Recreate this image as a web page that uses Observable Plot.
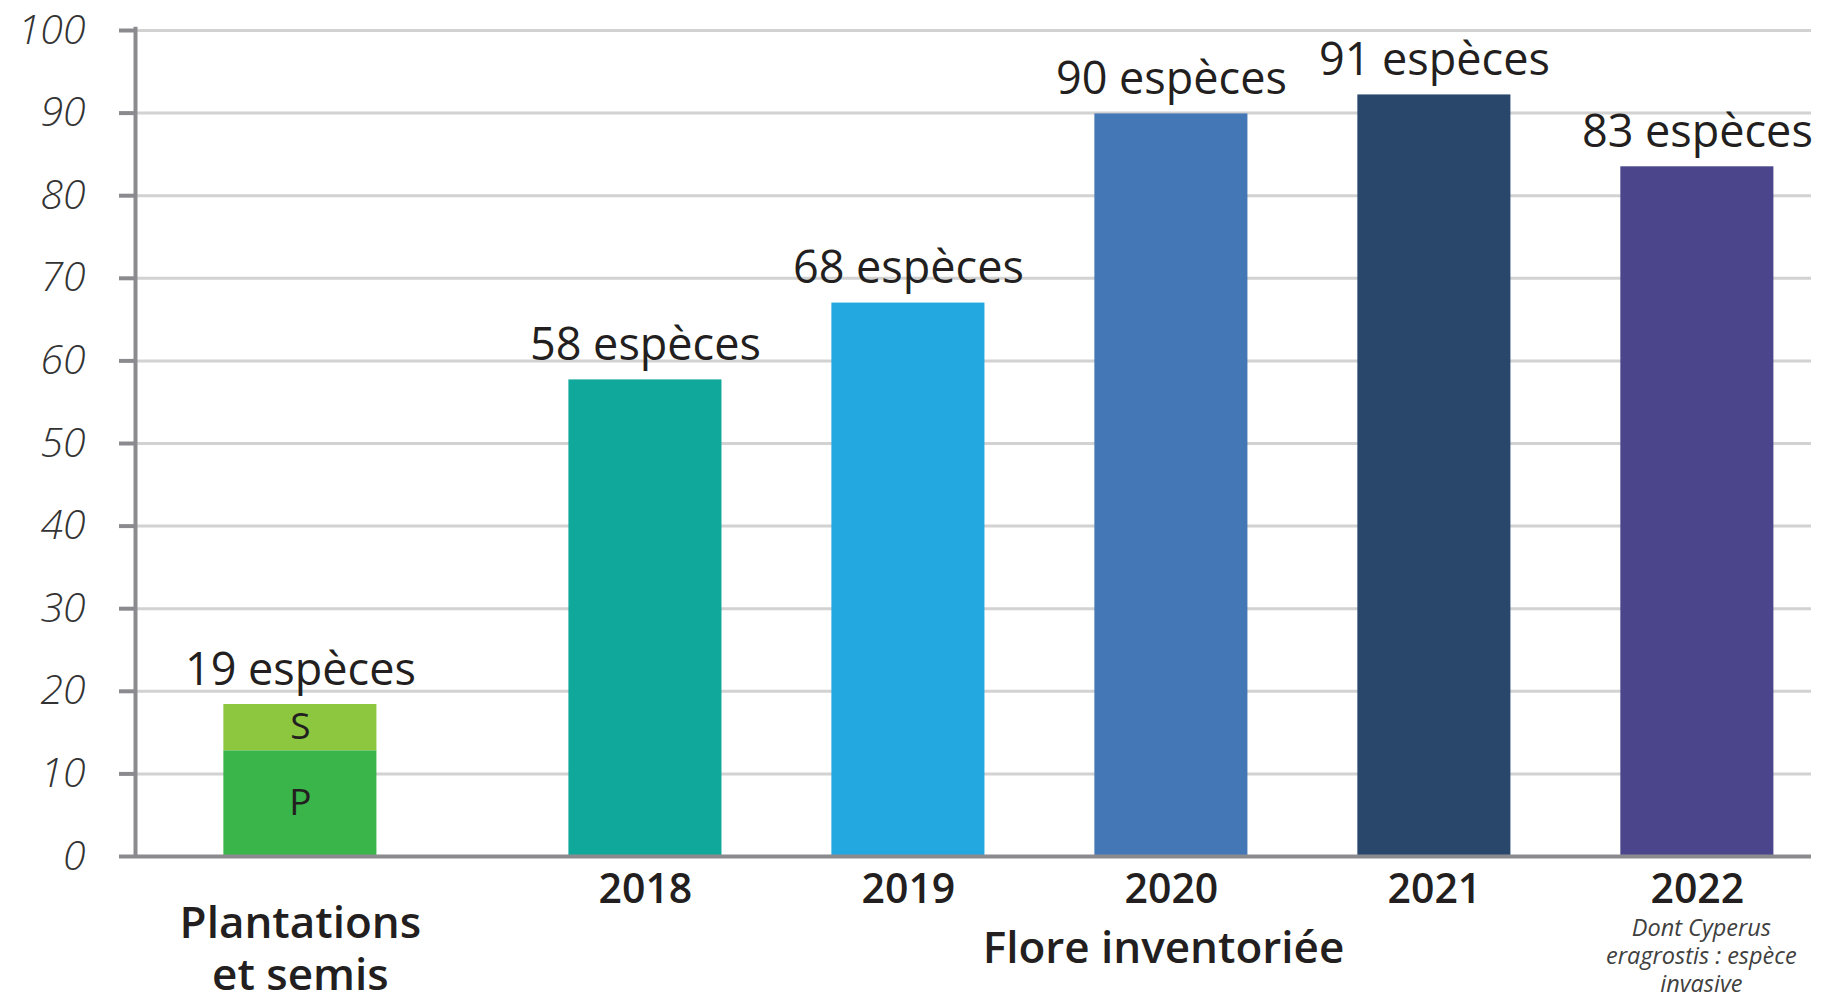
<!DOCTYPE html>
<html>
<head>
<meta charset="utf-8">
<script src="https://cdn.jsdelivr.net/npm/d3@7"></script>
<script src="https://cdn.jsdelivr.net/npm/@observablehq/plot@0.6"></script>
<style>
  html, body { margin: 0; padding: 0; background: #fff; }
  #chart svg { display: block; }
</style>
</head>
<body>
<div id="chart"></div>
<script>
// ---- Data ----
const years = ["2018", "2019", "2020", "2021", "2022"];
const speciesCounts = [57.7, 67.0, 89.9, 92.2, 83.5];
const countLabels = ["58 espèces", "68 espèces", "90 espèces", "91 espèces", "83 espèces"];
const yearColors = ["#0fa89b", "#23a8df", "#4377b5", "#28476b", "#4b468c"];

const plantingParts = ["P", "S"];
const plantingValues = [12.8, 5.6];
const plantingColors = ["#39b54a", "#8dc63f"];
const plantingTotalLabel = "19 espèces";
const plantingCategory = "Plantations\net semis";
const floreCategory = "Flore inventoriée";
const note2022 = "Dont Cyperus\neragrostis : espèce\ninvasive";

const yTicks = [0, 10, 20, 30, 40, 50, 60, 70, 80, 90, 100];

// ---- Layout (slot units along a linear x scale) ----
const barWidth = 0.582;
const plantingCenter = 0.627;
const firstYearCenter = 1.939;
const xMax = 6.373;

const yearRows = years.map((y, i) => ({
  year: y,
  value: speciesCounts[i],
  label: countLabels[i],
  color: yearColors[i],
  cx: firstYearCenter + i
}));

let acc = 0;
const plantRows = plantingParts.map((p, i) => {
  const r = {part: p, y1: acc, y2: acc + plantingValues[i], color: plantingColors[i], cx: plantingCenter};
  acc += plantingValues[i];
  return r;
});
const plantTotal = acc;

const font = "'Open Sans', 'Noto Sans', sans-serif";
const ink = "#231f20";

const chart = Plot.plot({
  width: 1827,
  height: 994,
  marginLeft: 135,
  marginRight: 16,
  marginTop: 30,
  marginBottom: 138,
  style: {fontFamily: font, background: "#fff"},
  x: {domain: [0, xMax], axis: null},
  y: {domain: [0, 100], axis: null},
  marks: [
    // grid
    Plot.ruleY(yTicks.filter(d => d > 0), {stroke: "#d2d2d2", strokeWidth: 3}),
    // year bars
    Plot.rect(yearRows, {
      x1: d => d.cx - barWidth / 2, x2: d => d.cx + barWidth / 2,
      y1: 0, y2: "value", fill: "color"
    }),
    // planting stacked bar
    Plot.rect(plantRows, {
      x1: d => d.cx - barWidth / 2, x2: d => d.cx + barWidth / 2,
      y1: "y1", y2: "y2", fill: "color"
    }),
    Plot.text(plantRows, {
      x: "cx", y: d => (d.y1 + d.y2) / 2, text: "part",
      fontSize: 37, fill: ink, lineAnchor: "middle"
    }),
    // value labels
    Plot.text(yearRows, {
      x: "cx", y: "value", text: "label",
      fontSize: 45, fill: ink, lineAnchor: "bottom", dy: -20
    }),
    Plot.text([plantTotal], {
      x: plantingCenter, y: d => d, text: [plantingTotalLabel],
      fontSize: 45, fill: ink, lineAnchor: "bottom", dy: -20
    }),
    // y axis
    Plot.axisY({
      ticks: yTicks, tickSize: 16, tickPadding: 34,
      stroke: "#8b8b8f", strokeWidth: 4, fill: "#333333",
      fontSize: 41, fontStyle: "italic", fontWeight: 300, textAnchor: "end",
      letterSpacing: "1.5px",
      label: null
    }),
    Plot.ruleX([0], {y1: 0, y2: 100.4, stroke: "#8b8b8f", strokeWidth: 4}),
    Plot.ruleY([0], {stroke: "#8b8b8f", strokeWidth: 4}),
    // category labels
    Plot.text(yearRows, {
      x: "cx", y: 0, text: "year",
      fontSize: 41, fontWeight: 600, fill: ink, lineAnchor: "top", dy: 17
    }),
    Plot.text([plantingCategory], {
      x: plantingCenter, y: 0, text: d => d,
      fontSize: 44, fontWeight: 600, fill: ink, lineAnchor: "top", dy: 45, lineHeight: 1.17
    }),
    Plot.text([floreCategory], {
      x: d3.mean(yearRows, d => d.cx) - 0.03, y: 0, text: d => d,
      fontSize: 44, fontWeight: 600, fill: ink, lineAnchor: "top", dy: 75
    }),
    Plot.text([note2022], {
      x: yearRows[4].cx, y: 0, text: d => d,
      fontSize: 23.5, fontStyle: "italic", fill: "#404040", lineAnchor: "top", dy: 60, dx: 4, lineHeight: 1.18
    })
  ]
});

document.getElementById("chart").appendChild(chart);
</script>
</body>
</html>
